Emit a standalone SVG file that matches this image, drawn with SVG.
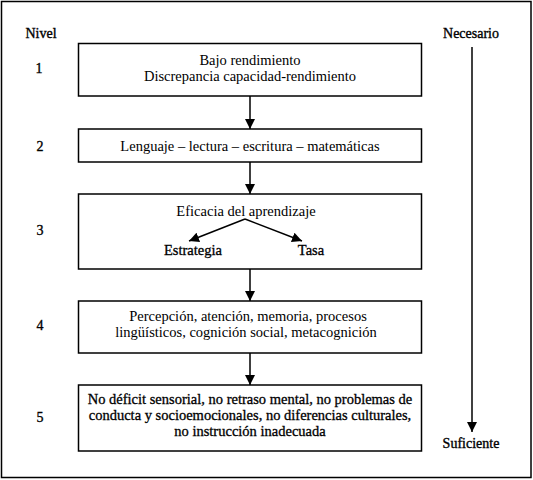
<svg xmlns="http://www.w3.org/2000/svg" width="533" height="480" viewBox="0 0 533 480" font-family="'Liberation Serif', Tinos, 'DejaVu Serif', serif">
<defs>
<marker id="ah" viewBox="0 0 10 10" refX="10" refY="5" markerWidth="10" markerHeight="10" markerUnits="userSpaceOnUse" orient="auto">
<path d="M0,0 L10,5 L0,10 Z" fill="#000"/>
</marker>
<style>
text{font-family:'Liberation Serif',Tinos,'DejaVu Serif',serif;font-size:14.5px;fill:#000;text-anchor:middle}
.lbl{font-size:14px;stroke:#000;stroke-width:0.35}
.dk{stroke:#000;stroke-width:0.3}
.box{fill:none;stroke:#000;stroke-width:1.5}
.ln{stroke:#000;stroke-width:1.5;fill:none}
</style>
</defs>
<rect width="533" height="480" fill="#fff"/>
<rect x="1.5" y="1.5" width="529.5" height="476" fill="none" stroke="#000" stroke-width="1.5"/>
<g id="labels">
<text class="lbl" x="41" y="38">Nivel</text>
<text class="lbl" x="471" y="38">Necesario</text>
<text class="lbl" x="471" y="448">Suficiente</text>
<text class="lbl" x="39" y="73">1</text>
<text class="lbl" x="40" y="151">2</text>
<text class="lbl" x="40" y="235">3</text>
<text class="lbl" x="40" y="330">4</text>
<text class="lbl" x="40" y="422">5</text>
</g>
<g id="n1">
<rect class="box" x="78.5" y="43.5" width="343" height="52.5"/>
<text x="250" y="65">Bajo rendimiento</text>
<text x="250" y="81">Discrepancia capacidad-rendimiento</text>
</g>
<g id="n2">
<rect class="box" x="78.5" y="129" width="343" height="33"/>
<text x="250" y="151">Lenguaje – lectura – escritura – matemáticas</text>
</g>
<g id="n3">
<rect class="box" x="78.5" y="194" width="343" height="75"/>
<text x="246" y="216">Eficacia del aprendizaje</text>
<text class="dk" x="193" y="255">Estrategia</text>
<text class="dk" x="311" y="255">Tasa</text>
</g>
<g id="n4">
<rect class="box" x="78.5" y="301" width="343" height="52"/>
<text x="248" y="321">Percepción, atención, memoria, procesos</text>
<text x="246" y="337">lingüísticos, cognición social, metacognición</text>
</g>
<g id="n5">
<rect class="box" x="78.5" y="385" width="343" height="66"/>
<text class="dk" x="250" y="404">No déficit sensorial, no retraso mental, no problemas de</text>
<text class="dk" x="250" y="420">conducta y socioemocionales, no diferencias culturales,</text>
<text class="dk" x="250" y="436">no instrucción inadecuada</text>
</g>
<g id="connectors">
<line class="ln" x1="250" y1="96" x2="250" y2="129" marker-end="url(#ah)"/>
<line class="ln" x1="250" y1="162" x2="250" y2="194" marker-end="url(#ah)"/>
<line class="ln" x1="250" y1="269" x2="250" y2="301" marker-end="url(#ah)"/>
<line class="ln" x1="250" y1="353" x2="250" y2="385" marker-end="url(#ah)"/>
<line class="ln" x1="472" y1="47" x2="472" y2="432" marker-end="url(#ah)"/>
<line class="ln" x1="245" y1="219" x2="189" y2="241" marker-end="url(#ah)"/>
<line class="ln" x1="245" y1="219" x2="302" y2="241" marker-end="url(#ah)"/>
</g>
</svg>
